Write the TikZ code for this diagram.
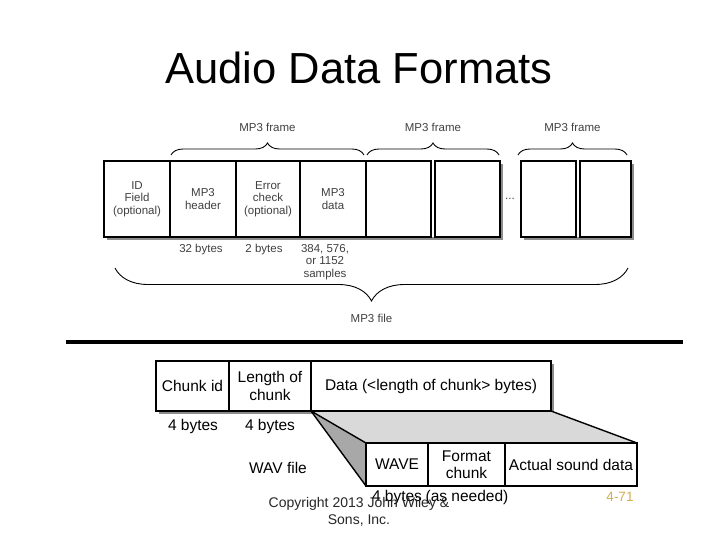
\documentclass[tikz,border=0pt]{standalone}
\usepackage{fontspec}
\setmainfont{Liberation Sans}
\usetikzlibrary{decorations.pathreplacing, math, backgrounds}
\definecolor{mygold}{RGB}{205,175,80}
\definecolor{mylight}{RGB}{217,217,217}
\definecolor{mydark}{RGB}{168,168,168}
\definecolor{myshadow}{RGB}{140,140,140}
\tikzset{
mpcell/.style={draw, line width=1.4pt, outer sep=0pt, inner sep=0pt, minimum height=76, align=center, font=\fontsize{11.5}{12.5}\selectfont, text=black!75},
mplbl/.style={align=center, font=\fontsize{11.5}{12.5}\selectfont, text=black!75},
wvcell/.style={draw, line width=1.4pt, outer sep=0pt, inner sep=0pt, align=center, fill=white, font=\fontsize{15.5}{17.5}\selectfont},
wvlbl/.style={font=\fontsize{15.5}{17.5}\selectfont},
mpbrace/.style={decorate, decoration={brace, amplitude=12pt}, line width=0.9pt},
}

\begin{document}
\begin{tikzpicture}[x=1pt,y=-1pt]
\tikzmath{
\sh=3;
\wth=50;
\wbh=43;
}
\useasboundingbox (0,0) rectangle (720,540);

%title
\node[font=\fontsize{43.5}{50}\selectfont] (title) at (359,68) {Audio Data Formats};

%mp3 file
\node[mpcell, minimum width=66] (mpid) at (137,199) {ID\\Field\\(optional)};
\node[mpcell, minimum width=66] (mphdr) at (203,199) {MP3\\header};
\node[mpcell, minimum width=64] (mperr) at (268,199) {Error\\check\\(optional)};
\node[mpcell, minimum width=66] (mpdat) at (333,199) {MP3\\data};
\node[mpcell, minimum width=65] (mpfa) at (398.5,199) {};
\node[mpcell, minimum width=65] (mpfb) at (467.5,199) {};
\node[mpcell, minimum width=55] (mpfc) at (548.5,199) {};
\node[mpcell, minimum width=51] (mpfd) at (605.5,199) {};
\node[mplbl] (mpdots) at (510,199) {...};

\begin{scope}[on background layer]
\fill[myshadow] ([shift={(\sh,\sh)}]mpid.north west) rectangle ([shift={(\sh,\sh)}]mpfb.south east);
\fill[white] (mpid.north west) rectangle (mpfb.south east);
\fill[myshadow] ([shift={(\sh,\sh)}]mpfc.north west) rectangle ([shift={(\sh,\sh)}]mpfd.south east);
\fill[white] (mpfc.north west) rectangle (mpfd.south east);
\end{scope}

\node[mplbl] (mpb32) at (201,250) {32 bytes};
\node[mplbl] (mpb2) at (264,250) {2 bytes};
\node[mplbl] (mpsmp) at (325,262) {384, 576,\\or 1152\\samples};

%braces
\draw[mpbrace] ([shift={(1,-6)}]mphdr.north west) -- ([shift={(-2,-6)}]mpdat.north east) node[midway, yshift=28pt, mplbl] (fr1) {MP3 frame};
\draw[mpbrace] ([shift={(1,-6)}]mpfa.north west) -- ([shift={(-1,-6)}]mpfb.north east) node[midway, yshift=28pt, mplbl] (fr2) {MP3 frame};
\draw[mpbrace] ([shift={(-3,-6)}]mpfc.north west) -- ([shift={(-4,-6)}]mpfd.north east) node[midway, yshift=28pt, mplbl] (fr3) {MP3 frame};
\draw[mpbrace, decoration={amplitude=33pt}] ([shift={(-3,31)}]mpfd.south east) -- ([shift={(11,31)}]mpid.south west) node[midway, yshift=-50pt, mplbl] (mpfile) {MP3 file};

%rule
\draw[line width=4pt] (66,342) -- (683,342);

%wav file
\node[wvcell, minimum width=73, minimum height=\wth] (wvid) at (192.5,386) {Chunk id};
\node[wvcell, minimum width=82, minimum height=\wth] (wvlen) at (270,386) {Length of\\chunk};
\node[wvcell, minimum width=240, minimum height=\wth] (wvdat) at (431,386) {Data (<length of chunk> bytes)};
\node[wvcell, minimum width=62, minimum height=\wbh] (wvwave) at (397,464.5) {WAVE};
\node[wvcell, minimum width=77, minimum height=\wbh] (wvfmt) at (466.5,464.5) {Format\\chunk};
\node[wvcell, minimum width=132, minimum height=\wbh] (wvact) at (571,464.5) {Actual sound data};

\begin{scope}[on background layer]
\fill[myshadow] ([shift={(\sh,\sh)}]wvid.north west) rectangle ([shift={(\sh,\sh)}]wvdat.south east);
\fill[mylight] (wvdat.south west) -- (wvdat.south east) -- (wvact.north east) -- (wvwave.north west) -- cycle;
\fill[mydark] (wvdat.south west) -- (wvwave.north west) -- (wvwave.south west) -- cycle;
\end{scope}
\draw[line width=1.4pt] (wvdat.south west) -- (wvwave.north west);
\draw[line width=1.4pt] (wvdat.south west) -- (wvwave.south west);
\draw[line width=1.4pt] (wvdat.south east) -- (wvact.north east);

\node[wvlbl] (wvidb) at (193,426) {4 bytes};
\node[wvlbl] (wvlenb) at (270,426) {4 bytes};
\node[wvlbl] (wvname) at (278,468) {WAV file};
\node[wvlbl] (wvwaveb) at (397,497) {4 bytes};
\node[wvlbl] (wvfmtb) at (467,497) {(as needed)};

%footer
\node[align=center, font=\fontsize{14}{17}\selectfont, text=black!85] (copy) at (359,512) {Copyright 2013 John Wiley \&\\Sons, Inc.};
\node[font=\fontsize{13.5}{16}\selectfont, text=mygold] (pgno) at (620,497) {4-71};
\end{tikzpicture}
\end{document}
